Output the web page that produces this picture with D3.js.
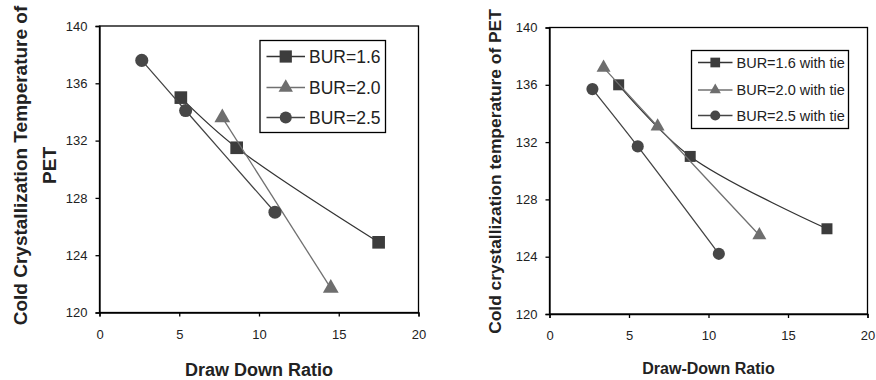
<!DOCTYPE html>
<html>
<head>
<meta charset="utf-8">
<script src="https://cdn.jsdelivr.net/npm/d3@7"></script>
<style>
  body { margin: 0; background: #fff; }
  svg { font-family: Arial, "Liberation Sans", sans-serif; }
  .domain, .tick line { stroke: #000; stroke-width: 1.3; }
  .tick text { font-size: 13px; fill: #222; }
</style>
</head>
<body>
<div id="chart"></div>
<script>
// Left panel: without tie layer
const leftNames = ['BUR=1.6', 'BUR=2.0', 'BUR=2.5'];
const leftX16 = [5.1, 8.6, 17.5];
const leftY16 = [135.0, 131.5, 124.9];
const leftX20 = [7.7, 14.5];
const leftY20 = [133.6, 121.7];
const leftX25 = [2.65, 5.4, 11.0];
const leftY25 = [137.6, 134.1, 127.0];

// Right panel: with tie layer
const rightNames = ['BUR=1.6 with tie', 'BUR=2.0 with tie', 'BUR=2.5 with tie'];
const rightX16 = [4.35, 8.85, 17.45];
const rightY16 = [136.0, 131.0, 125.95];
const rightX20 = [3.4, 6.8, 13.2];
const rightY20 = [137.2, 133.1, 125.5];
const rightX25 = [2.7, 5.55, 10.65];
const rightY25 = [135.7, 131.7, 124.2];

const xTicks = [0, 5, 10, 15, 20];
const yTicks = [120, 124, 128, 132, 136, 140];

const W = 876, H = 380;
const svg = d3.select('#chart').append('svg')
    .attr('width', W)
    .attr('height', H);

const styles = [
    { shape: d3.symbolSquare, fill: '#3c3c3c', line: '#333' },
    { shape: d3.symbolTriangle, fill: '#6e6e6e', line: '#707070' },
    { shape: d3.symbolCircle, fill: '#474747', line: '#444' }
];

function zip(xs, ys) {
    return xs.map((x, i) => ({ x: x, y: ys[i] }));
}

function drawPanel(cfg) {
    const x = d3.scaleLinear().domain([0, 20]).range([cfg.left, cfg.right]);
    const y = d3.scaleLinear().domain([120, 140]).range([cfg.bottom, cfg.top]);
    const g = svg.append('g');

    // plot area border (top + right)
    g.append('rect')
        .attr('x', cfg.left).attr('y', cfg.top)
        .attr('width', cfg.right - cfg.left).attr('height', cfg.bottom - cfg.top)
        .attr('fill', 'none').attr('stroke', '#000').attr('stroke-width', 1.3);

    g.append('g')
        .attr('transform', `translate(0,${cfg.bottom})`)
        .call(d3.axisBottom(x).tickValues(xTicks).tickSize(4).tickPadding(13));

    g.append('g')
        .attr('transform', `translate(${cfg.left},0)`)
        .call(d3.axisLeft(y).tickValues(yTicks).tickSize(4).tickPadding(8));

    const line = d3.line()
        .x(d => x(d.x))
        .y(d => y(d.y))
        .curve(d3.curveCatmullRom.alpha(0.5));

    cfg.series.forEach((s, i) => {
        const st = styles[i];
        g.append('path')
            .datum(s)
            .attr('d', line)
            .attr('fill', 'none')
            .attr('stroke', st.line)
            .attr('stroke-width', 1.3);
        g.selectAll(null)
            .data(s)
            .enter()
            .append('path')
            .attr('transform', d => `translate(${x(d.x)},${y(d.y)})`)
            .attr('d', d3.symbol().type(st.shape).size(cfg.markerSize[i]))
            .attr('fill', st.fill);
    });

    // legend
    const lg = g.append('g');
    lg.append('rect')
        .attr('x', cfg.legend.x).attr('y', cfg.legend.y)
        .attr('width', cfg.legend.w).attr('height', cfg.legend.h)
        .attr('fill', '#fff').attr('stroke', '#000').attr('stroke-width', 1.3);
    cfg.names.forEach((name, i) => {
        const st = styles[i];
        const cy = cfg.legend.y + cfg.legend.rows[i];
        const lx = cfg.legend.x + cfg.legend.lineStart;
        lg.append('line')
            .attr('x1', lx).attr('x2', lx + cfg.legend.lineLen)
            .attr('y1', cy).attr('y2', cy)
            .attr('stroke', st.line).attr('stroke-width', 1.3);
        lg.append('path')
            .attr('transform', `translate(${lx + cfg.legend.lineLen / 2},${cy})`)
            .attr('d', d3.symbol().type(st.shape).size(cfg.legend.markerSize[i]))
            .attr('fill', st.fill);
        lg.append('text')
            .attr('x', lx + cfg.legend.lineLen + 4)
            .attr('y', cy)
            .attr('dy', '0.36em')
            .attr('font-size', cfg.legend.fontSize)
            .attr('fill', '#222')
            .text(name);
    });

    // axis titles
    g.append('text')
        .attr('x', (cfg.left + cfg.right) / 2)
        .attr('y', cfg.xTitleY)
        .attr('text-anchor', 'middle')
        .attr('font-weight', 'bold')
        .attr('font-size', cfg.xTitleSize)
        .attr('fill', '#222')
        .text(cfg.xTitle);

    const yt = g.append('text')
        .attr('transform', `translate(${cfg.yTitleX},${cfg.yTitleMid}) rotate(-90)`)
        .attr('text-anchor', 'middle')
        .attr('font-weight', 'bold')
        .attr('font-size', cfg.yTitleSize)
        .attr('fill', '#222');
    cfg.yTitle.forEach((t, i) => {
        yt.append('tspan')
            .attr('x', 0)
            .attr('dy', i === 0 ? 0 : 29)
            .text(t);
    });
}

drawPanel({
    left: 99.5, right: 418.5, top: 26, bottom: 312.5,
    series: [zip(leftX16, leftY16), zip(leftX20, leftY20), zip(leftX25, leftY25)],
    names: leftNames,
    markerSize: [160, 108, 135],
    legend: { x: 260, y: 40.5, w: 125.5, h: 92, rows: [16, 47, 77], lineStart: 6.5, lineLen: 38.5,
              markerSize: [150, 90, 115], fontSize: 17.5 },
    xTitle: 'Draw Down Ratio', xTitleSize: 18, xTitleY: 375.5,
    yTitle: ['Cold Crystallization Temperature of', 'PET'], yTitleX: 27, yTitleMid: 165.5, yTitleSize: 19
});

drawPanel({
    left: 549.5, right: 867.5, top: 27.5, bottom: 314,
    series: [zip(rightX16, rightY16), zip(rightX20, rightY20), zip(rightX25, rightY25)],
    names: rightNames,
    markerSize: [121, 85, 115],
    legend: { x: 691.5, y: 50.5, w: 157, h: 78, rows: [12, 39.5, 65], lineStart: 6.5, lineLen: 34.5,
              markerSize: [94, 55, 80], fontSize: 14.5 },
    xTitle: 'Draw-Down Ratio', xTitleSize: 16, xTitleY: 374,
    yTitle: ['Cold crystallization temperature of PET'], yTitleX: 501, yTitleMid: 171.5, yTitleSize: 17.4
});
</script>
</body>
</html>
